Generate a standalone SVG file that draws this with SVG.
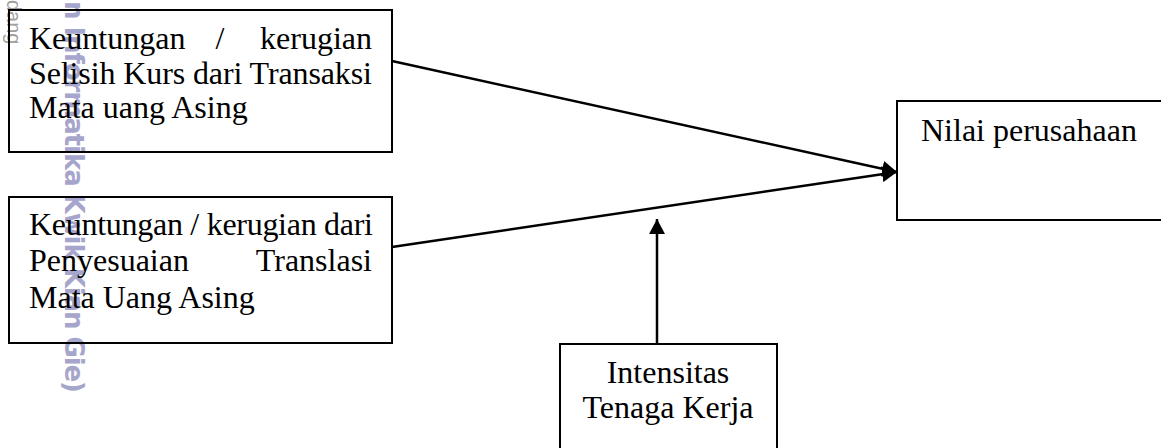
<svg xmlns="http://www.w3.org/2000/svg" width="1161" height="448" viewBox="0 0 1161 448">
  <style>
    .box { fill: none; stroke: #000; stroke-width: 2; }
    .t { font-family: "Liberation Serif", "Times New Roman", serif; font-size: 32px; fill: #000; }
    .conn { stroke: #000; stroke-width: 2.5; fill: none; }
    .wm { font-family: "DejaVu Sans", sans-serif; font-size: 26px; font-weight: bold; fill: #a6a6cc; }
    .wm2 { font-family: "Liberation Sans", Arial, sans-serif; font-size: 20px; fill: #a0a0a0; }
  </style>
  <defs>
    <marker id="arrow" markerUnits="userSpaceOnUse" markerWidth="15" markerHeight="16" refX="15" refY="8" orient="auto">
      <path d="M0,0 L15,8 L0,16 Z" fill="#000"/>
    </marker>
  </defs>
  <rect width="1161" height="448" fill="#fff"/>

  <g id="watermark">
    <text class="wm2" transform="translate(7,0) rotate(90)">dang</text>
    <text class="wm" transform="translate(65,1) rotate(90)" textLength="392" lengthAdjust="spacing">n Informatika Kwik Kian Gie)</text>
  </g>

  <g id="node-transaksi">
    <rect class="box" x="9" y="10" width="383" height="142"/>
    <text class="t" x="29" y="49">Keuntungan</text>
    <text class="t" x="220" y="49" text-anchor="middle">/</text>
    <text class="t" x="372" y="49" text-anchor="end">kerugian</text>
    <text class="t" x="29" y="83.5" textLength="343" lengthAdjust="spacing">Selisih Kurs dari Transaksi</text>
    <text class="t" x="29" y="118">Mata uang Asing</text>
  </g>

  <g id="node-translasi">
    <rect class="box" x="9" y="197" width="383" height="146"/>
    <text class="t" x="29" y="235" textLength="344" lengthAdjust="spacing">Keuntungan / kerugian dari</text>
    <text class="t" x="29" y="271">Penyesuaian</text>
    <text class="t" x="372" y="271" text-anchor="end">Translasi</text>
    <text class="t" x="29" y="307.5">Mata Uang Asing</text>
  </g>

  <g id="node-nilai">
    <rect class="box" x="897" y="101" width="280" height="119"/>
    <text class="t" x="921" y="141">Nilai perusahaan</text>
  </g>

  <g id="node-intensitas">
    <rect class="box" x="560" y="344" width="217" height="120"/>
    <text class="t" x="668" y="383" text-anchor="middle">Intensitas</text>
    <text class="t" x="668" y="418" text-anchor="middle">Tenaga Kerja</text>
  </g>

  <g id="connectors">
    <line class="conn" x1="392" y1="61" x2="897" y2="172" marker-end="url(#arrow)"/>
    <line class="conn" x1="392" y1="247" x2="897" y2="172" marker-end="url(#arrow)"/>
    <line class="conn" x1="657" y1="344" x2="657" y2="219" marker-end="url(#arrow)"/>
  </g>
</svg>
